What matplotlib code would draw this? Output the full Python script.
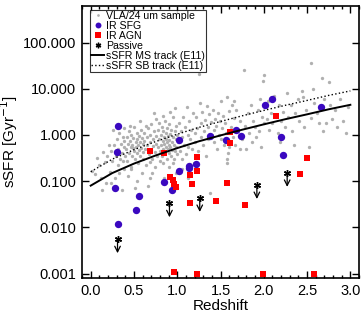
import matplotlib
matplotlib.use("Agg")
import matplotlib.pyplot as plt
from matplotlib.ticker import FixedLocator, FormatStrFormatter, MultipleLocator, NullLocator

plt.rcParams['font.family'] = ['Liberation Sans', 'DejaVu Sans']

# VLA/24um sample (grey dots)
vla_z = [0.02, 0.05, 0.07, 0.10, 0.13, 0.14, 0.16, 0.18, 0.19, 0.12,
         0.21, 0.22, 0.24, 0.25, 0.27, 0.28, 0.29, 0.30, 0.31, 0.32, 0.33, 0.34, 0.35, 0.36, 0.36, 0.37, 0.38, 0.38, 0.39, 0.40, 0.23, 0.26, 0.33, 0.37, 0.39,
         0.41, 0.42, 0.42, 0.43, 0.44, 0.44, 0.45, 0.46, 0.46, 0.47, 0.48, 0.48, 0.49, 0.50, 0.50, 0.51, 0.51, 0.52, 0.52, 0.53, 0.54, 0.54, 0.55, 0.55, 0.56, 0.56, 0.57, 0.57, 0.58, 0.58, 0.59, 0.59, 0.60, 0.60, 0.43, 0.47, 0.53, 0.45, 0.49, 0.57,
         0.61, 0.62, 0.62, 0.63, 0.64, 0.65, 0.65, 0.66, 0.67, 0.68, 0.68, 0.69, 0.70, 0.70, 0.71, 0.72, 0.72, 0.73, 0.74, 0.74, 0.75, 0.76, 0.76, 0.77, 0.78, 0.78, 0.79, 0.80, 0.80, 0.66, 0.71, 0.79, 0.64, 0.73, 0.69,
         0.81, 0.81, 0.82, 0.82, 0.83, 0.83, 0.84, 0.84, 0.85, 0.85, 0.86, 0.86, 0.87, 0.87, 0.87, 0.88, 0.88, 0.88, 0.89, 0.89, 0.90, 0.90, 0.90, 0.91, 0.91, 0.92, 0.92, 0.93, 0.93, 0.94, 0.94, 0.95, 0.95, 0.96, 0.96, 0.97, 0.97, 0.98, 0.98, 0.99, 0.99, 1.00, 1.00, 0.85, 0.89, 0.92, 0.97, 0.83, 0.95, 1.00,
         1.01, 1.02, 1.03, 1.04, 1.05, 1.06, 1.07, 1.08, 1.09, 1.10, 1.11, 1.12, 1.13, 1.14, 1.15, 1.16, 1.17, 1.18, 1.19, 1.20, 1.06, 1.13,
         1.21, 1.22, 1.23, 1.24, 1.25, 1.26, 1.27, 1.28, 1.29, 1.30, 1.31, 1.32, 1.33, 1.34, 1.35, 1.36, 1.37, 1.38, 1.39, 1.40,
         1.41, 1.42, 1.43, 1.44, 1.45, 1.46, 1.47, 1.48, 1.49, 1.50, 1.51, 1.52, 1.53, 1.54, 1.55, 1.57, 1.58, 1.59, 1.60, 1.60, 1.58, 1.56,
         1.62, 1.63, 1.64, 1.65, 1.67, 1.68, 1.70, 1.72, 1.73, 1.75, 1.77, 1.78, 1.80, 1.66,
         1.82, 1.83, 1.85, 1.86, 1.88, 1.90, 1.91, 1.93, 1.95, 1.96, 1.98, 1.99, 2.00, 2.00, 1.97,
         2.02, 2.04, 2.06, 2.08, 2.10, 2.12, 2.14, 2.16, 2.18, 2.20, 2.05, 2.19,
         2.22, 2.25, 2.27, 2.28, 2.31, 2.33, 2.36, 2.39, 2.35,
         2.41, 2.44, 2.46, 2.49, 2.52, 2.54, 2.55, 2.57, 2.58, 2.45,
         2.62, 2.64, 2.67, 2.70, 2.72, 2.75, 2.77, 2.79, 2.68,
         2.82, 2.85, 2.88, 2.92, 2.95, 2.97]
vla_ssfr = [0.17, 0.14, 0.31, 0.22, 0.063, 0.43, 0.26, 0.09, 0.35, 0.12,
            0.6, 0.16, 0.45, 0.28, 0.6, 0.12, 0.35, 0.83, 0.22, 0.5, 1.1, 0.3, 0.65, 0.063, 0.4, 0.9, 0.18, 0.55, 0.75, 0.35, 0.09, 1.3, 0.15, 0.28, 1.4,
            0.5, 0.9, 0.28, 0.65, 1.2, 0.4, 0.75, 0.55, 0.2, 1.0, 0.35, 0.62, 0.85, 0.45, 1.5, 0.07, 0.3, 0.7, 0.55, 1.1, 0.4, 0.8, 0.25, 0.6, 0.95, 0.48, 0.35, 0.7, 1.3, 0.52, 0.15, 0.85, 0.42, 0.65, 0.13, 0.18, 0.1, 1.6, 0.52, 2.0,
            0.3, 0.75, 1.1, 0.5, 0.22, 0.9, 0.6, 1.4, 0.38, 0.7, 0.12, 1.0, 0.48, 1.7, 0.3, 0.8, 0.58, 1.2, 0.42, 0.2, 0.95, 0.65, 2.2, 0.35, 1.3, 0.55, 0.8, 0.45, 0.27, 0.08, 0.15, 1.8, 1.6, 3.0, 0.26,
            0.6, 1.0, 0.35, 1.5, 0.75, 0.5, 0.25, 1.2, 0.65, 0.9, 0.45, 2.0, 0.55, 0.8, 1.1, 0.3, 0.7, 1.4, 0.5, 0.95, 0.4, 0.62, 1.7, 0.78, 0.2, 1.05, 0.55, 0.35, 1.3, 0.7, 0.48, 0.9, 2.5, 0.6, 0.3, 1.2, 0.45, 0.8, 0.15, 1.6, 0.55, 0.38, 1.0, 0.12, 0.032, 3.2, 3.8, 2.6, 0.25, 0.07,
            0.7, 1.8, 0.45, 1.2, 0.3, 0.9, 2.5, 0.6, 1.5, 0.38, 4.0, 1.0, 0.55, 2.0, 0.8, 1.3, 0.5, 3.0, 0.25, 1.1, 0.18, 0.12,
            0.7, 2.4, 1.4, 0.45, 21.0, 5.0, 0.9, 1.8, 3.2, 0.6, 1.2, 2.1, 0.35, 4.2, 1.5, 0.8, 2.8, 0.055, 1.9, 1.0,
            3.5, 1.3, 0.7, 2.2, 1.6, 0.5, 3.0, 1.0, 2.0, 0.8, 5.5, 1.4, 2.6, 0.6, 1.8, 0.3, 0.25, 0.4, 0.55, 3.3, 6.8, 1.1,
            1.5, 4.5, 0.9, 2.3, 0.6, 3.5, 1.2, 0.5, 2.0, 0.8, 25.0, 1.6, 0.5, 5.5,
            3.0, 1.1, 4.5, 0.7, 2.0, 1.5, 0.9, 3.5, 1.2, 6.0, 2.5, 15.0, 20.0, 1.8, 0.55,
            4.0, 2.2, 1.3, 3.0, 1.8, 7.0, 2.5, 1.1, 4.5, 2.0, 5.5, 0.7,
            3.2, 1.5, 8.0, 2.5, 4.5, 1.2, 3.0, 6.0, 0.6,
            2.0, 9.0, 1.5, 3.5, 0.55, 36.0, 2.3, 10.0, 5.0, 6.5,
            3.0, 1.8, 17.0, 6.0, 1.8, 14.0, 4.5, 2.2, 1.2,
            3.5, 1.5, 6.0, 2.0, 1.1, 4.0]

# IR SFG (blue circles)
sfg_z = [0.30, 0.31, 0.28, 0.31, 0.56, 0.52, 0.85, 0.94, 1.02, 1.02, 1.14, 1.14, 1.22,
         1.38, 1.56, 1.68, 1.74, 2.01, 2.09, 2.20, 2.22, 2.66]
sfg_ssfr = [0.43, 1.55, 0.07, 0.012, 0.048, 0.024, 0.095, 0.065, 0.77, 0.165, 0.21, 0.19, 0.24,
            0.93, 0.77, 1.26, 0.93, 4.4, 5.9, 0.89, 0.36, 4.0]

# IR AGN (red squares)
agn_z = [0.68, 0.85, 0.915, 0.954, 0.965, 0.98, 1.142, 1.223, 1.227, 1.173, 1.142, 1.45,
         1.612, 1.604, 2.142, 2.504, 2.415, 1.577, 1.78,
         0.958, 1.223, 1.99, 2.58]
agn_ssfr = [0.46, 0.41, 0.126, 0.107, 0.087, 0.074, 0.133, 0.34, 0.162, 0.085, 0.033, 0.038,
            1.18, 0.67, 2.55, 0.31, 0.144, 0.091, 0.030,
            0.0011, 0.001, 0.001, 0.001]

# Passive (upper limits)
pas_z = [0.31, 0.91, 1.26, 1.92, 2.27]
pas_ssfr = [0.0055, 0.033, 0.043, 0.082, 0.15]

# E11 tracks
track_z = [0.0, 0.25, 0.5, 0.75, 1.0, 1.25, 1.5, 1.75, 2.0, 2.25, 2.5, 2.75, 3.0]
ms_ssfr = [0.08, 0.15, 0.24, 0.36, 0.52, 0.73, 0.98, 1.3, 1.7, 2.2, 2.8, 3.6, 4.5]
sb_ssfr = [0.16, 0.30, 0.48, 0.72, 1.04, 1.46, 1.96, 2.6, 3.4, 4.4, 5.6, 7.2, 9.0]

fig = plt.figure(figsize=(3.63, 3.17), dpi=100)
ax = fig.add_axes([0.226, 0.123, 0.763, 0.858])

ax.plot(vla_z, vla_ssfr, 'o', color='#b0b0b0', markersize=2.4, markeredgewidth=0, label='VLA/24 um sample')
ax.plot(sfg_z, sfg_ssfr, 'o', color='#3a08c0', markersize=5.3, markeredgewidth=0, label='IR SFG')
ax.plot(agn_z, agn_ssfr, 's', color='#ff0000', markersize=4.8, markeredgewidth=0, label='IR AGN')
ax.plot(pas_z, pas_ssfr, linestyle='none', marker=(6, 2, 0), color='black', markersize=5, markeredgewidth=1.0, label='Passive')
for z, s in zip(pas_z, pas_ssfr):
    ax.annotate('', xy=(z, s * 10 ** -0.3), xytext=(z, s),
                arrowprops=dict(arrowstyle='->', color='black', lw=0.9, shrinkA=0, shrinkB=0))
ax.plot(track_z, ms_ssfr, '-', color='black', lw=1.4, label='sSFR MS track (E11)')
ax.plot(track_z, sb_ssfr, ':', color='black', lw=1.0, label='sSFR SB track (E11)')

ax.set_yscale('log')
ax.set_xlim(-0.1, 3.1)
ax.set_ylim(0.0008, 620)
ax.yaxis.set_major_locator(FixedLocator([0.001, 0.01, 0.1, 1, 10, 100]))
ax.yaxis.set_minor_locator(NullLocator())
ax.yaxis.set_major_formatter(FormatStrFormatter('%.3f'))
ax.xaxis.set_major_locator(MultipleLocator(0.5))
ax.xaxis.set_minor_locator(MultipleLocator(0.1))
ax.xaxis.set_major_formatter(FormatStrFormatter('%.1f'))
ax.tick_params(which='both', direction='in', top=True, right=True, labelsize=10.5, width=1)
ax.tick_params(which='major', length=5, pad=4)
ax.tick_params(which='minor', length=2.5)
for sp in ax.spines.values():
    sp.set_linewidth(1.2)

ax.set_xlabel('Redshift', fontsize=11, labelpad=1)
ax.set_ylabel('sSFR [Gyr$^{-1}$]', fontsize=11, labelpad=2)

leg = ax.legend(loc='upper left', bbox_to_anchor=(0.03, 0.985), fontsize=7.6, frameon=True,
                fancybox=False, edgecolor='black', handlelength=1.2, handletextpad=0.2,
                labelspacing=0.0, borderpad=0.1, borderaxespad=0, markerscale=0.8)
leg.get_frame().set_linewidth(0.8)

fig.savefig('out.png', dpi=100)
